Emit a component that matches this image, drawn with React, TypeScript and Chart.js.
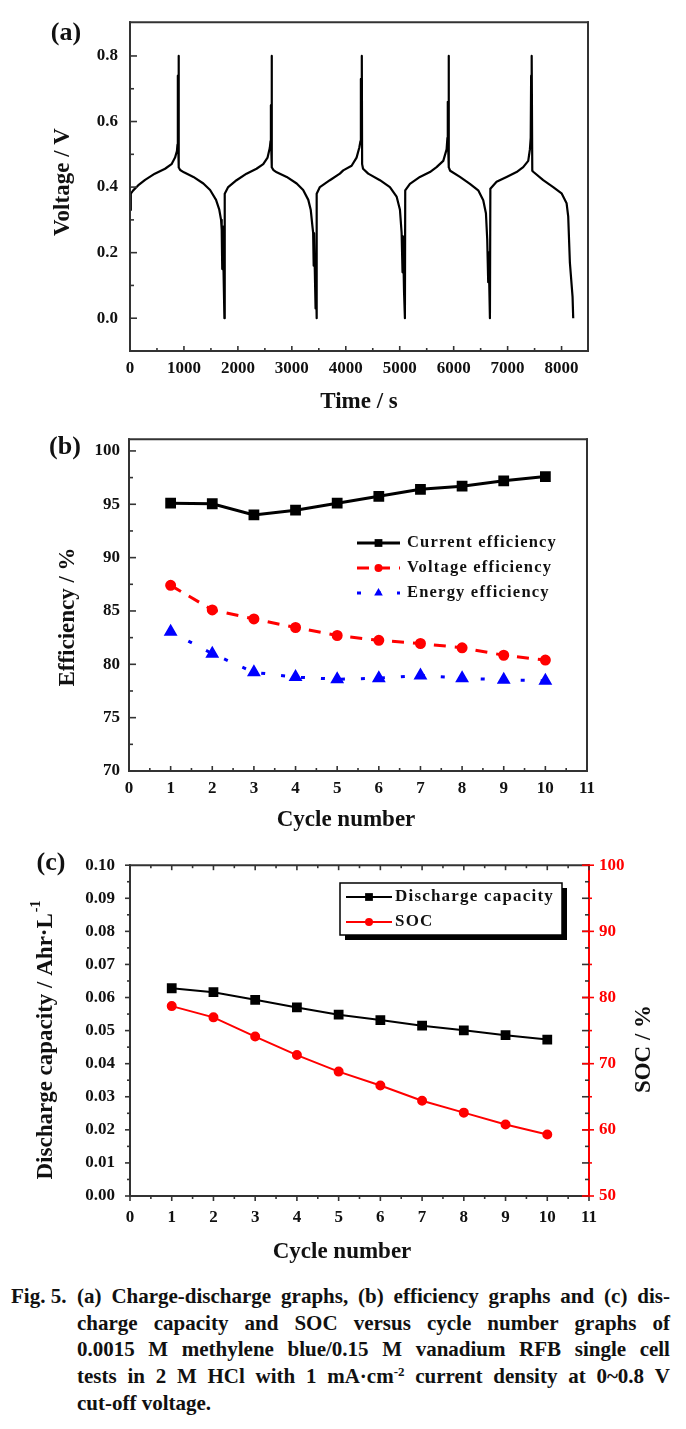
import React, { useEffect, useRef } from 'react';
import { Chart, registerables } from 'chart.js';

Chart.register(...registerables);

const FONT = "'Liberation Serif', 'Times New Roman', serif";

// ---------- Panel (a): charge-discharge curve, [time s, voltage V] ----------
const CYCLE_1: [number, number][] = [
  [0, 0.33], [15, 0.38], [60, 0.39], [150, 0.405], [280, 0.422], [460, 0.441], [650, 0.456],
  [770, 0.47], [835, 0.49], [870, 0.51], [880, 0.53], [887, 0.74], [892, 0.55], [900, 0.8],
  [906, 0.46], [930, 0.452], [1000, 0.445], [1175, 0.431], [1360, 0.411], [1485, 0.391],
  [1595, 0.361], [1655, 0.331], [1688, 0.3], [1700, 0.27], [1710, 0.15], [1718, 0.28],
  [1732, 0.16], [1750, 0.0],
];
const CYCLE_2: [number, number][] = [
  [1756, 0.38], [1820, 0.4], [1975, 0.421], [2160, 0.441], [2345, 0.456], [2470, 0.47],
  [2550, 0.49], [2592, 0.52], [2605, 0.54], [2612, 0.65], [2617, 0.53], [2625, 0.8],
  [2631, 0.46], [2660, 0.452], [2720, 0.445], [2905, 0.431], [3090, 0.411], [3210, 0.391],
  [3305, 0.361], [3350, 0.331], [3382, 0.28], [3395, 0.26], [3405, 0.16], [3412, 0.26],
  [3440, 0.03], [3448, 0.12], [3458, 0.0],
];
const CYCLE_3: [number, number][] = [
  [3463, 0.38], [3520, 0.4], [3705, 0.421], [3890, 0.441], [3953, 0.451], [4108, 0.465],
  [4200, 0.49], [4250, 0.52], [4272, 0.54], [4280, 0.73], [4286, 0.55], [4297, 0.8],
  [4303, 0.47], [4320, 0.456], [4416, 0.441], [4633, 0.421], [4818, 0.4], [4942, 0.371],
  [5004, 0.331], [5035, 0.26], [5052, 0.14], [5060, 0.25], [5080, 0.08], [5096, 0.0],
];
const CYCLE_4: [number, number][] = [
  [5102, 0.39], [5189, 0.41], [5374, 0.431], [5560, 0.446], [5683, 0.461], [5807, 0.48],
  [5869, 0.515], [5884, 0.55], [5891, 0.66], [5897, 0.53], [5906, 0.8], [5912, 0.46],
  [5935, 0.45], [6116, 0.431], [6301, 0.41], [6455, 0.39], [6548, 0.36], [6598, 0.32],
  [6622, 0.24], [6640, 0.11], [6648, 0.2], [6660, 0.1], [6672, 0.0],
];
const CYCLE_5: [number, number][] = [
  [6680, 0.395], [6795, 0.416], [6981, 0.431], [7166, 0.446], [7289, 0.461], [7382, 0.48],
  [7413, 0.515], [7428, 0.55], [7436, 0.74], [7442, 0.54], [7450, 0.8], [7457, 0.45],
  [7480, 0.446], [7660, 0.421], [7845, 0.4], [8000, 0.381], [8093, 0.351], [8123, 0.311],
  [8154, 0.17], [8204, 0.065], [8216, 0.0],
];
const A_X_TICKS = [0, 1000, 2000, 3000, 4000, 5000, 6000, 7000, 8000];
const A_Y_TICKS = [0, 0.2, 0.4, 0.6, 0.8];

// ---------- Panel (b): efficiencies ----------
const CYCLES = [1, 2, 3, 4, 5, 6, 7, 8, 9, 10];
const CURRENT_EFF = [95.1, 95.05, 94.0, 94.45, 95.1, 95.75, 96.4, 96.7, 97.2, 97.6];
const VOLTAGE_EFF = [87.4, 85.1, 84.25, 83.45, 82.7, 82.25, 81.95, 81.55, 80.85, 80.4];
const ENERGY_EFF = [83.05, 81.0, 79.25, 78.8, 78.6, 78.7, 78.95, 78.7, 78.55, 78.45];
const B_X_TICKS = [0, 1, 2, 3, 4, 5, 6, 7, 8, 9, 10, 11];
const B_Y_TICKS = [70, 75, 80, 85, 90, 95, 100];

// ---------- Panel (c): discharge capacity and SOC ----------
const DISCHARGE_CAP = [0.0628, 0.0616, 0.0593, 0.057, 0.0548, 0.0532, 0.0515, 0.0501, 0.0486, 0.0473];
const SOC = [78.7, 77.0, 74.1, 71.3, 68.8, 66.7, 64.4, 62.6, 60.8, 59.3];
const C_Y_TICKS = [0, 0.01, 0.02, 0.03, 0.04, 0.05, 0.06, 0.07, 0.08, 0.09, 0.1];
const C_Y2_TICKS = [50, 60, 70, 80, 90, 100];

const CAPTION_LINES = [
  '(a) Charge-discharge graphs, (b) efficiency graphs and (c) dis-',
  'charge capacity and SOC versus cycle number graphs of',
  '0.0015 M methylene blue/0.15 M vanadium RFB single cell',
  'tests in 2 M HCl with 1 mA·cm^-2 current density at 0~0.8 V',
  'cut-off voltage.',
];

// ---------------- helpers ----------------
function scaleOpts(o: any) {
  const horizontal = o.position === 'bottom' || o.position === 'top';
  return {
    type: 'linear',
    position: o.position,
    min: o.min,
    max: o.max,
    grid: { display: false, drawTicks: false },
    border: { display: false },
    ticks: {
      font: { family: FONT, size: 17, weight: 'bold' },
      color: o.color || '#111',
      padding: o.padding,
      autoSkip: false,
      maxRotation: 0,
      minRotation: 0,
      callback: o.fmt,
    },
    afterBuildTicks: (s: any) => {
      s.ticks = o.ticks.map((v: number) => ({ value: v }));
    },
    afterFit: (s: any) => {
      if (horizontal) s.height = o.size;
      else s.width = o.size;
    },
  };
}

function drawMarker(ctx: CanvasRenderingContext2D, style: string, x: number, y: number, r: number, color: string) {
  ctx.save();
  ctx.fillStyle = color;
  ctx.strokeStyle = color;
  ctx.setLineDash([]);
  ctx.beginPath();
  if (style === 'rect') {
    const h = r * Math.SQRT1_2;
    ctx.rect(x - h, y - h, 2 * h, 2 * h);
  } else if (style === 'triangle') {
    const s = r * 1.5;
    ctx.moveTo(x, y - r);
    ctx.lineTo(x + s * 0.577, y + r * 0.5);
    ctx.lineTo(x - s * 0.577, y + r * 0.5);
    ctx.closePath();
  } else {
    ctx.arc(x, y, r, 0, Math.PI * 2);
  }
  ctx.fill();
  ctx.restore();
}

const decorPlugin = {
  id: 'decor',
  afterDraw(chart: any, _args: any, opts: any) {
    const ctx: CanvasRenderingContext2D = chart.ctx;
    const ca = chart.chartArea;
    ctx.save();
    ctx.setLineDash([]);
    // frame
    const fw = opts.frameWidth || 2;
    ctx.lineWidth = fw;
    ctx.lineCap = 'square';
    const sides: [string, number, number, number, number][] = [
      ['left', ca.left, ca.top, ca.left, ca.bottom],
      ['bottom', ca.left, ca.bottom, ca.right, ca.bottom],
      ['top', ca.left, ca.top, ca.right, ca.top],
      ['right', ca.right, ca.top, ca.right, ca.bottom],
    ];
    for (const [name, x1, y1, x2, y2] of sides) {
      ctx.strokeStyle = (opts.frameColors && opts.frameColors[name]) || '#333';
      ctx.beginPath();
      ctx.moveTo(x1, y1);
      ctx.lineTo(x2, y2);
      ctx.stroke();
    }
    ctx.lineCap = 'butt';
    // ticks
    for (const ax of opts.ticks || []) {
      const sc = chart.scales[ax.id];
      const vals: number[] = sc.ticks.map((t: any) => t.value);
      const step = vals.length > 1 ? vals[1] - vals[0] : 0;
      const minors: number[] = [];
      for (let i = 0; i < vals.length - 1; i++) minors.push((vals[i] + vals[i + 1]) / 2);
      if (step) {
        const lo = vals[0] - step / 2;
        const hi = vals[vals.length - 1] + step / 2;
        if (lo > sc.min + step * 0.05) minors.unshift(lo);
        if (hi < sc.max - step * 0.05) minors.push(hi);
      }
      ctx.strokeStyle = ax.color || '#333';
      ctx.lineWidth = ax.width || 1.6;
      const draw = (v: number, len: [number, number]) => {
        const p = sc.getPixelForValue(v);
        const [li, lo] = len;
        ctx.beginPath();
        if (ax.side === 'bottom') {
          ctx.moveTo(p, ca.bottom - li);
          ctx.lineTo(p, ca.bottom + lo);
        } else if (ax.side === 'top') {
          ctx.moveTo(p, ca.top + li);
          ctx.lineTo(p, ca.top - lo);
        } else if (ax.side === 'left') {
          ctx.moveTo(ca.left + li, p);
          ctx.lineTo(ca.left - lo, p);
        } else {
          ctx.moveTo(ca.right - li, p);
          ctx.lineTo(ca.right + lo, p);
        }
        ctx.stroke();
      };
      vals.forEach((v) => draw(v, ax.major));
      minors.forEach((v) => draw(v, ax.minor));
    }
    // texts
    for (const t of opts.texts || []) {
      ctx.save();
      ctx.translate(t.x, t.y);
      if (t.rot) ctx.rotate((t.rot * Math.PI) / 180);
      ctx.fillStyle = t.color || '#111';
      ctx.textBaseline = 'middle';
      const font = `bold ${t.size}px ${FONT}`;
      ctx.font = font;
      const w1 = ctx.measureText(t.text).width;
      let w2 = 0;
      const supFont = `bold ${Math.round(t.size * 0.62)}px ${FONT}`;
      if (t.sup) {
        ctx.font = supFont;
        w2 = ctx.measureText(t.sup).width + 1;
      }
      const start = -(w1 + w2) / 2;
      ctx.font = font;
      ctx.textAlign = 'left';
      ctx.fillText(t.text, start, 0);
      if (t.sup) {
        ctx.font = supFont;
        ctx.fillText(t.sup, start + w1 + 1, -t.size * 0.42);
      }
      ctx.restore();
    }
    // legend
    const lg = opts.legend;
    if (lg) {
      if (lg.box) {
        const b = lg.box;
        ctx.fillStyle = '#000';
        ctx.fillRect(b.x + b.shadow, b.y + b.shadow, b.w, b.h);
        ctx.fillStyle = '#fff';
        ctx.fillRect(b.x, b.y, b.w, b.h);
        ctx.strokeStyle = '#000';
        ctx.lineWidth = 1.5;
        ctx.strokeRect(b.x, b.y, b.w, b.h);
      }
      chart.data.datasets.forEach((ds: any, i: number) => {
        const y = lg.rows[i];
        ctx.save();
        ctx.strokeStyle = ds.borderColor;
        ctx.lineWidth = ds.borderWidth;
        ctx.setLineDash(ds.borderDash || []);
        ctx.beginPath();
        ctx.moveTo(lg.x0, y);
        ctx.lineTo(lg.x1, y);
        ctx.stroke();
        ctx.restore();
        drawMarker(ctx, ds.pointStyle, (lg.x0 + lg.x1) / 2, y, ds.pointRadius, ds.pointBackgroundColor);
        ctx.save();
        ctx.fillStyle = '#111';
        ctx.font = `bold ${lg.size}px ${FONT}`;
        (ctx as any).letterSpacing = `${lg.spacing}px`;
        ctx.textBaseline = 'middle';
        ctx.textAlign = 'left';
        ctx.fillText(ds.label, lg.textX, y);
        ctx.restore();
      });
    }
    ctx.restore();
  },
};

function baseOptions(padding: any, scales: any, decor: any) {
  return {
    responsive: false,
    animation: false,
    devicePixelRatio: 1,
    layout: { padding },
    scales,
    plugins: {
      legend: { display: false },
      tooltip: { enabled: false },
      decor,
    },
  };
}

function buildA(): any {
  const all = [...CYCLE_1, ...CYCLE_2, ...CYCLE_3, ...CYCLE_4, ...CYCLE_5];
  return {
    type: 'line',
    data: {
      datasets: [
        {
          label: 'Voltage',
          data: all.map(([t, v]) => ({ x: t, y: v })),
          borderColor: '#000',
          borderWidth: 2.2,
          pointRadius: 0,
          tension: 0,
          borderJoinStyle: 'round',
        },
      ],
    },
    options: baseOptions(
      { left: 0, top: 14, right: 98, bottom: 0 },
      {
        x: scaleOpts({ position: 'bottom', min: 0, max: 8490, ticks: A_X_TICKS, padding: 7, size: 69, fmt: (v: number) => String(v) }),
        y: scaleOpts({ position: 'left', min: -0.1, max: 0.903, ticks: A_Y_TICKS, padding: 12, size: 130, fmt: (v: number) => v.toFixed(1) }),
      },
      {
        ticks: [
          { id: 'x', side: 'bottom', major: [5, 0], minor: [3, 0] },
          { id: 'y', side: 'left', major: [7, 0], minor: [4, 0] },
        ],
        texts: [
          { text: '(a)', x: 66, y: 33, size: 26 },
          { text: 'Time / s', x: 359, y: 402, size: 23 },
          { text: 'Voltage / V', x: 63, y: 182, rot: -90, size: 23 },
        ],
      }
    ),
    plugins: [decorPlugin],
  };
}

function buildB(): any {
  const pts = (arr: number[]) => CYCLES.map((c, i) => ({ x: c, y: arr[i] }));
  return {
    type: 'line',
    data: {
      datasets: [
        {
          label: 'Current efficiency',
          data: pts(CURRENT_EFF),
          borderColor: '#000',
          borderWidth: 3,
          pointStyle: 'rect',
          pointRadius: 5.5,
          pointBackgroundColor: '#000',
          pointBorderColor: '#000',
          tension: 0,
        },
        {
          label: 'Voltage efficiency',
          data: pts(VOLTAGE_EFF),
          borderColor: '#ff0000',
          borderWidth: 3,
          borderDash: [12, 9],
          pointStyle: 'circle',
          pointRadius: 4,
          pointBackgroundColor: '#ff0000',
          pointBorderColor: '#ff0000',
          tension: 0,
        },
        {
          label: 'Energy efficiency',
          data: pts(ENERGY_EFF),
          borderColor: '#0000ff',
          borderWidth: 3,
          borderDash: [4, 16],
          pointStyle: 'triangle',
          pointRadius: 5,
          pointBackgroundColor: '#0000ff',
          pointBorderColor: '#0000ff',
          tension: 0,
        },
      ],
    },
    options: baseOptions(
      { left: 0, top: 15, right: 99, bottom: 0 },
      {
        x: scaleOpts({ position: 'bottom', min: 0, max: 11, ticks: B_X_TICKS, padding: 7, size: 69, fmt: (v: number) => String(v) }),
        y: scaleOpts({ position: 'left', min: 70, max: 101.1, ticks: B_Y_TICKS, padding: 9, size: 129, fmt: (v: number) => String(v) }),
      },
      {
        ticks: [
          { id: 'x', side: 'bottom', major: [5, 0], minor: [3, 0] },
          { id: 'y', side: 'left', major: [7, 0], minor: [4, 0] },
        ],
        texts: [
          { text: '(b)', x: 65, y: 27, size: 26 },
          { text: 'Cycle number', x: 346, y: 400, size: 23 },
          { text: 'Efficiency / %', x: 68, y: 197, rot: -90, size: 23 },
        ],
        legend: { x0: 357, x1: 400, textX: 407, rows: [123, 148, 173], size: 16.5, spacing: 1.2 },
      }
    ),
    plugins: [decorPlugin],
  };
}

function buildC(): any {
  const pts = (arr: number[]) => CYCLES.map((c, i) => ({ x: c, y: arr[i] }));
  return {
    type: 'line',
    data: {
      datasets: [
        {
          label: 'Discharge capacity',
          data: pts(DISCHARGE_CAP),
          yAxisID: 'y',
          borderColor: '#000',
          borderWidth: 2,
          pointStyle: 'rect',
          pointRadius: 5.5,
          pointBackgroundColor: '#000',
          pointBorderColor: '#000',
          tension: 0,
        },
        {
          label: 'SOC',
          data: pts(SOC),
          yAxisID: 'yR',
          borderColor: '#ff0000',
          borderWidth: 2,
          pointStyle: 'circle',
          pointRadius: 4,
          pointBackgroundColor: '#ff0000',
          pointBorderColor: '#ff0000',
          tension: 0,
        },
      ],
    },
    options: baseOptions(
      { left: 0, top: 19.5, right: 37, bottom: 0 },
      {
        x: scaleOpts({ position: 'bottom', min: 0, max: 11, ticks: B_X_TICKS, padding: 11, size: 74, fmt: (v: number) => String(v) }),
        y: scaleOpts({ position: 'left', min: 0, max: 0.1, ticks: C_Y_TICKS, padding: 15, size: 130, fmt: (v: number) => v.toFixed(2) }),
        yR: scaleOpts({ position: 'right', min: 50, max: 100, ticks: C_Y2_TICKS, padding: 10, size: 60, color: '#ff0000', fmt: (v: number) => String(v) }),
      },
      {
        frameColors: { right: '#ff0000' },
        ticks: [
          { id: 'x', side: 'bottom', major: [0, 5], minor: [0, 3] },
          { id: 'x', side: 'top', major: [5, 0], minor: [3, 0] },
          { id: 'y', side: 'left', major: [0, 5], minor: [0, 3] },
          { id: 'y', side: 'right', major: [7, 0], minor: [4, 0] },
          { id: 'yR', side: 'right', major: [7, 5], minor: [0, 3], color: '#ff0000' },
        ],
        texts: [
          { text: '(c)', x: 51, y: 23, size: 26 },
          { text: 'Cycle number', x: 342, y: 412, size: 23 },
          { text: 'Discharge capacity / Ahr·L', sup: '-1', x: 46, y: 200, rot: -90, size: 23 },
          { text: 'SOC / %', x: 644, y: 209, rot: -90, size: 23 },
        ],
        legend: {
          x0: 346, x1: 392, textX: 395, rows: [57, 82], size: 17, spacing: 1.2,
          box: { x: 340, y: 43, w: 222, h: 52, shadow: 5 },
        },
      }
    ),
    plugins: [decorPlugin],
  };
}

function Panel({ top, height, build }: { top: number; height: number; build: () => any }) {
  const ref = useRef<HTMLCanvasElement>(null);
  useEffect(() => {
    const chart = new Chart(ref.current as HTMLCanvasElement, build());
    return () => chart.destroy();
  }, [build]);
  return (
    <canvas
      ref={ref}
      width={686}
      height={height}
      style={{ position: 'absolute', left: 0, top, width: 686, height, display: 'block' }}
    />
  );
}

function renderWords(line: string) {
  return line.split(' ').map((w, i) => {
    const m = w.split('^');
    if (m.length > 1) {
      return (
        <span key={i}>
          {m[0]}
          <sup style={{ fontSize: '0.62em', lineHeight: 0, verticalAlign: '0.55em' }}>{m[1]}</sup>
        </span>
      );
    }
    return <span key={i}>{w}</span>;
  });
}

function Caption() {
  return (
    <div
      style={{
        position: 'absolute',
        left: 11,
        top: 1283,
        width: 660,
        fontFamily: FONT,
        fontWeight: 'bold',
        fontSize: 21,
        lineHeight: '26.7px',
        color: '#111',
        display: 'flex',
      }}
    >
      <div style={{ width: 66, flex: 'none' }}>Fig. 5.</div>
      <div style={{ width: 593, flex: 'none' }}>
        {CAPTION_LINES.map((line, i) =>
          i < CAPTION_LINES.length - 1 ? (
            <div key={i} style={{ display: 'flex', justifyContent: 'space-between', whiteSpace: 'nowrap' }}>
              {renderWords(line)}
            </div>
          ) : (
            <div key={i} style={{ whiteSpace: 'nowrap' }}>{line}</div>
          )
        )}
      </div>
    </div>
  );
}

export default function App() {
  return (
    <div style={{ position: 'absolute', left: 0, top: 0, width: 686, height: 1429, background: '#fff', overflow: 'hidden' }}>
      <Panel top={0} height={420} build={buildA} />
      <Panel top={420} height={420} build={buildB} />
      <Panel top={840} height={430} build={buildC} />
      <Caption />
    </div>
  );
}
